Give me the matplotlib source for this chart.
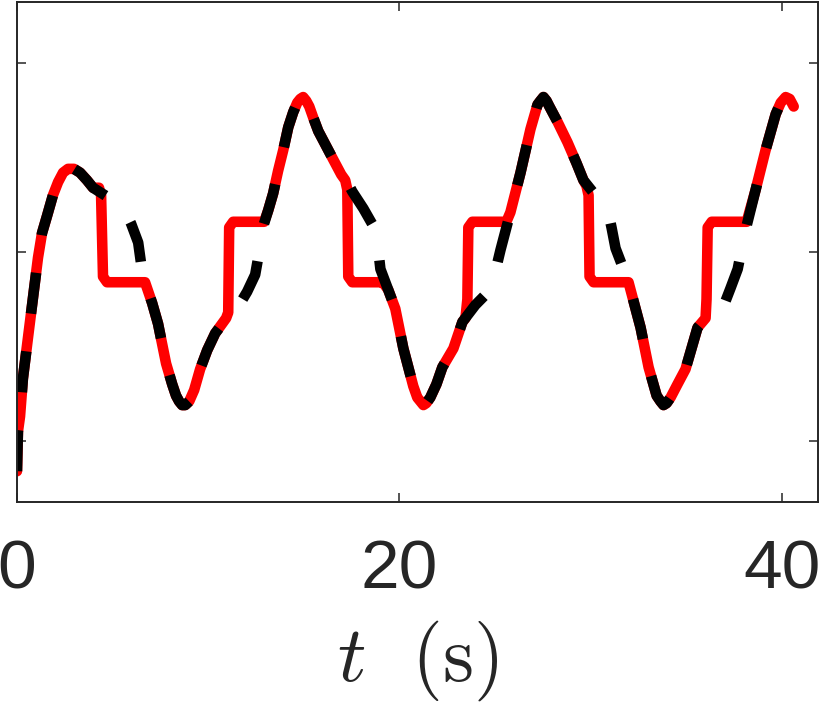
import numpy as np
import matplotlib.pyplot as plt

plt.rcParams['mathtext.fontset'] = 'cm'
plt.rcParams['font.family'] = ['Liberation Sans', 'DejaVu Sans']

# reference signal (black dashed)
t_ref = [0.00, 0.05, 0.16, 0.31, 0.58, 0.84, 1.10, 1.31, 1.57, 1.88, 2.15, 2.41,
         2.67, 2.98, 3.30, 3.66, 3.98, 4.76, 5.55, 5.97, 6.34, 6.49, 6.70, 7.07,
         7.38, 7.80, 8.12, 8.32, 8.48, 8.64, 8.80, 9.01, 9.27, 9.58, 9.95, 10.37,
         11.05, 11.57, 12.04, 12.46, 12.67, 12.83, 13.14, 13.40, 13.66, 13.93,
         14.19, 14.45, 14.66, 14.82, 14.97, 15.13, 15.29, 15.50, 15.76, 16.02,
         16.54, 16.96, 17.33, 17.54, 18.12, 18.74, 18.90, 19.01, 19.42, 19.79,
         20.21, 20.73, 20.94, 21.10, 21.26, 21.41, 21.62, 21.94, 22.25, 22.83,
         23.30, 23.98, 24.76, 25.03, 25.29, 25.81, 26.34, 26.86, 27.23, 27.38,
         27.54, 27.70, 27.85, 28.27, 28.80, 29.27, 29.63, 30.26, 30.89, 31.10,
         31.31, 31.99, 32.62, 33.04, 33.46, 33.66, 33.82, 33.98, 34.19, 34.55,
         34.97, 35.60, 36.02, 36.91, 37.33, 37.70, 38.12, 38.64, 39.16, 39.69,
         39.95, 40.21, 40.42, 40.63]
y_ref = [-1.16, -0.95, -0.87, -0.67, -0.45, -0.24, -0.03, 0.10, 0.19, 0.30, 0.37, 0.42,
         0.44, 0.44, 0.42, 0.38, 0.34, 0.29, 0.24, 0.15, 0.05, -0.06, -0.16, -0.27,
         -0.38, -0.59, -0.70, -0.76, -0.79, -0.81, -0.81, -0.79, -0.73, -0.62, -0.52, -0.43,
         -0.34, -0.29, -0.21, -0.12, 0.00, 0.12, 0.22, 0.31, 0.43, 0.54,
         0.66, 0.74, 0.79, 0.81, 0.82, 0.80, 0.77, 0.71, 0.64, 0.59,
         0.49, 0.41, 0.36, 0.32, 0.23, 0.12, 0.01, -0.09, -0.20, -0.30,
         -0.51, -0.71, -0.77, -0.79, -0.81, -0.80, -0.77, -0.70, -0.61, -0.51,
         -0.37, -0.28, -0.20, -0.10, 0.01, 0.21, 0.42, 0.65, 0.78, 0.80,
         0.82, 0.80, 0.77, 0.69, 0.58, 0.47, 0.38, 0.30, 0.23, 0.13,
         0.02, -0.16, -0.40, -0.61, -0.76, -0.79, -0.81, -0.80, -0.77, -0.70,
         -0.62, -0.40, -0.35, -0.30, -0.19, -0.09, 0.12, 0.33, 0.54, 0.73,
         0.79, 0.82, 0.81, 0.77]

# output signal (red solid) with its hold segments
t_out = [0.00, 0.05, 0.16, 0.31, 0.58, 0.84, 1.10, 1.31, 1.57, 1.88, 2.15, 2.41,
         2.67, 2.98, 3.30, 3.66, 3.98,
         4.29, 4.40, 4.50, 4.71, 6.70,
         7.07, 7.38, 7.80, 8.12, 8.32, 8.48, 8.64, 8.80, 9.01, 9.27, 9.58, 9.95, 10.37,
         10.94, 11.05, 11.10, 11.31, 12.93,
         13.14, 13.40, 13.66, 13.93, 14.19, 14.45, 14.66, 14.82, 14.97, 15.13,
         15.29, 15.50, 15.76, 16.02, 16.54, 16.96,
         17.17, 17.28, 17.33, 17.54, 19.06, 19.21,
         19.42, 19.79, 20.21, 20.73, 20.94, 21.10, 21.26, 21.41, 21.62, 21.94,
         22.25, 22.83, 23.30,
         23.46, 23.56, 23.61, 23.82, 25.60,
         25.81, 26.34, 26.86, 27.23, 27.38, 27.54, 27.70, 27.85, 28.27, 28.80,
         29.27, 29.63,
         29.79, 29.90, 29.95, 30.16, 31.62,
         31.99, 32.62, 33.04, 33.46, 33.66, 33.82, 33.98, 34.19, 34.55, 34.97, 35.60,
         36.02, 36.07, 36.13, 36.34, 38.17,
         38.64, 39.16, 39.69, 39.95, 40.21, 40.42, 40.63]
y_out = [-1.16, -0.95, -0.87, -0.67, -0.45, -0.24, -0.03, 0.10, 0.19, 0.30, 0.37, 0.42,
         0.44, 0.44, 0.42, 0.38, 0.34,
         0.34, 0.30, -0.13, -0.16, -0.16,
         -0.27, -0.38, -0.59, -0.70, -0.76, -0.79, -0.81, -0.81, -0.79, -0.73, -0.62, -0.52, -0.43,
         -0.35, -0.32, 0.13, 0.16, 0.16,
         0.22, 0.31, 0.43, 0.54, 0.66, 0.74, 0.79, 0.81, 0.82, 0.80,
         0.77, 0.71, 0.64, 0.59, 0.49, 0.41,
         0.38, 0.33, -0.13, -0.16, -0.16, -0.17,
         -0.20, -0.30, -0.51, -0.71, -0.77, -0.79, -0.81, -0.80, -0.77, -0.70,
         -0.61, -0.51, -0.37,
         -0.35, -0.25, 0.13, 0.16, 0.16,
         0.21, 0.42, 0.65, 0.78, 0.80, 0.82, 0.80, 0.77, 0.69, 0.58,
         0.47, 0.38,
         0.35, 0.30, -0.13, -0.16, -0.16,
         -0.16, -0.40, -0.61, -0.76, -0.79, -0.81, -0.80, -0.77, -0.70, -0.62, -0.40,
         -0.35, -0.25, 0.13, 0.16, 0.16,
         0.33, 0.54, 0.73, 0.79, 0.82, 0.81, 0.77]

axcol = '#262626'

fig = plt.figure(figsize=(8.24, 7.14), dpi=100)
ax = fig.add_axes([0.0206, 0.2969, 0.9721, 0.7003])

ax.plot(t_out, y_out, color='red', lw=7.6, solid_joinstyle='round', solid_capstyle='round')
ax.plot(t_ref, y_ref, color='black', lw=7.6, linestyle=(0, (3.9, 3.6)), dash_joinstyle='round')

ax.set_xlim(0, 41.9)
ax.set_ylim(-1.323, 1.323)
ax.set_xticks([0, 20, 40])
ax.set_yticks([-1, 0, 1])
ax.set_yticklabels([])
ax.tick_params(direction='in', top=True, right=True, length=6.5, width=1.1,
               colors=axcol, labelsize=50, pad=26)
for s in ax.spines.values():
    s.set_linewidth(1.4)
    s.set_color(axcol)

ax.set_xlabel(r'$t\ \ (\mathrm{s})$', fontsize=57, color=axcol, labelpad=12)

fig.savefig('out.png', dpi=100)
